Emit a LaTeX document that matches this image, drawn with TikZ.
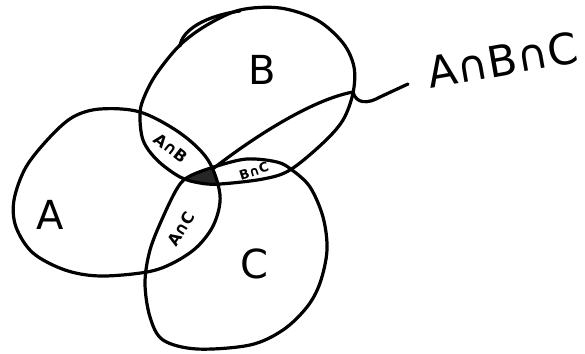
\documentclass[tikz,border=0pt]{standalone}
\usepackage{fontspec}
\newfontfamily\handfont{DejaVu Sans}
\begin{document}
\begin{tikzpicture}[x=1pt,y=-1pt,
  setline/.style={line width=3.2pt,line join=round,line cap=round},
  biglabel/.style={font=\handfont\fontsize{40}{40}\selectfont,inner sep=0pt},
  leaderlabel/.style={font=\handfont\fontsize{43}{43}\selectfont,inner sep=0pt},
  smalllabel/.style={font=\handfont\bfseries\fontsize{16}{16}\selectfont,inner sep=0pt},
  tinylabel/.style={font=\handfont\bfseries\fontsize{13}{13}\selectfont,inner sep=0pt}]
\useasboundingbox (0,0) rectangle (585,353);
\fill[white] (0,0) rectangle (585,353);
\newcommand\setApath{plot[smooth cycle,tension=0.55] coordinates{(100,109) (140,112) (180,133) (208,160) (220,195) (214,224) (197,247) (173,263) (147,272) (100,276) (65,270) (33,253) (16,227) (14,200) (26,167) (50,137) (73,117)}}
\newcommand\setBpath{plot[smooth cycle,tension=0.55] coordinates{(240,10) (280,8) (317,20) (343,43) (354,67) (353,93) (343,120) (323,143) (290,170) (263,179) (220,184) (200,183) (180,177) (157,160) (143,140) (140,113) (145,95) (157,73) (180,45) (207,25)}}
\newcommand\setCpath{plot[smooth cycle,tension=0.55] coordinates{(190,176) (217,166) (247,159) (277,162) (292,170) (310,187) (323,217) (327,250) (320,283) (307,307) (283,330) (250,345) (197,349) (163,340) (150,317) (145,283) (150,250) (163,217) (178,187)}}
% triple intersection shading
\begin{scope}
  \clip \setApath;
  \clip \setBpath;
  \fill[black!85] \setCpath;
\end{scope}
\draw[setline] \setApath;
\draw[setline] \setBpath;
\draw[setline] \setCpath;
% bump on top of B
\draw[setline] (180,46) .. controls (182,30) and (205,16) .. (240,11);
% labels
\node[biglabel] (labA) at (50,215) {A};
\node[biglabel] (labB) at (262,70) {B};
\node[biglabel] (labC) at (254,264) {C};
\node[smalllabel,rotate=-38] (labAB) at (171,148) {A∩B};
\node[smalllabel,rotate=58] (labAC) at (181,229) {A∩C};
\node[tinylabel,rotate=18] (labBC) at (254,171) {B∩C};
\node[leaderlabel,rotate=10] (labABC) at (503,60) {A∩B∩C};
% leader
\coordinate (lstart) at (214,168);
\coordinate (ledge) at (353,92);
\coordinate (lend) at (408,84);
\draw[setline] (lstart) .. controls (250,140) and (310,100) .. (ledge)
  .. controls (356,104) and (368,104) .. (380,97) -- (lend);
\end{tikzpicture}
\end{document}
